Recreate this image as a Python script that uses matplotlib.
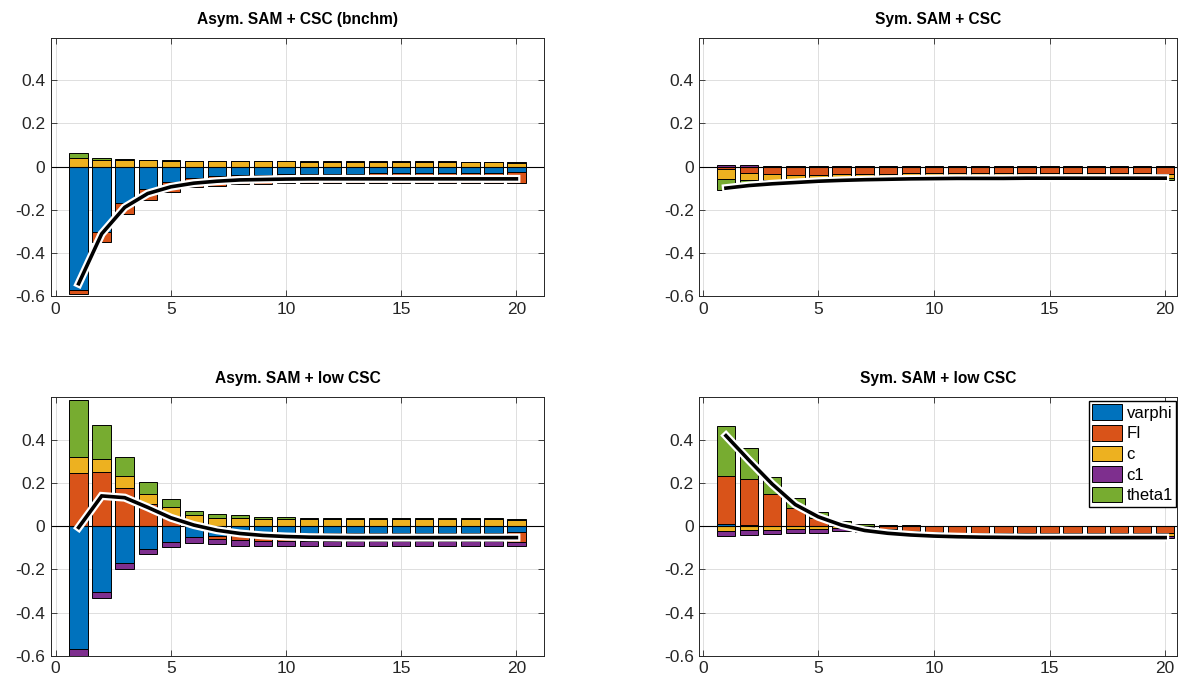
import numpy as np
import matplotlib
matplotlib.use("Agg")
import matplotlib.pyplot as plt
import matplotlib.patheffects as pe

plt.rcParams['font.family'] = ['Liberation Sans', 'DejaVu Sans']

periods = np.arange(1, 21)
series_names = ['varphi', 'FI', 'c', 'c1', 'theta1']
series_colors = ['#0072BD', '#D95319', '#EDB120', '#7E2F8E', '#77AC30']

# Asym. SAM + CSC (bnchm)
a_varphi = [-0.574, -0.305, -0.171, -0.102, -0.071, -0.054, -0.046, -0.040, -0.037, -0.035,
            -0.034, -0.033, -0.033, -0.032, -0.032, -0.032, -0.032, -0.031, -0.030, -0.025]
a_fi = [-0.018, -0.046, -0.051, -0.053, -0.046, -0.043, -0.043, -0.043, -0.043, -0.043,
        -0.044, -0.044, -0.044, -0.045, -0.045, -0.045, -0.045, -0.045, -0.046, -0.050]
a_c = [0.040, 0.031, 0.031, 0.029, 0.028, 0.027, 0.025, 0.025, 0.024, 0.024,
       0.023, 0.023, 0.023, 0.023, 0.023, 0.023, 0.023, 0.022, 0.022, 0.018]
a_c1 = [0.0] * 20
a_theta1 = [0.022, 0.008, 0.003, 0.002, 0.001, 0.001, 0.001, 0.001, 0.001, 0.001,
            0.001, 0.001, 0.001, 0.001, 0.001, 0.001, 0.001, 0.001, 0.001, 0.001]
a_total = [-0.543, -0.312, -0.189, -0.125, -0.094, -0.077, -0.068, -0.062, -0.060, -0.058,
           -0.057, -0.057, -0.057, -0.057, -0.057, -0.057, -0.057, -0.057, -0.057, -0.057]

# Sym. SAM + CSC
s_varphi = [-0.003, 0.0, 0.0, 0.0, 0.0, 0.0, 0.0, 0.0, 0.0, 0.0,
            0.0, 0.0, 0.0, 0.0, 0.0, 0.0, 0.0, 0.0, 0.0, 0.0]
s_fi = [-0.008, -0.028, -0.033, -0.037, -0.039, -0.035, -0.033, -0.033, -0.032, -0.032,
        -0.032, -0.032, -0.032, -0.032, -0.032, -0.032, -0.032, -0.032, -0.032, -0.034]
s_c = [-0.045, -0.033, -0.030, -0.027, -0.020, -0.012, -0.011, -0.011, -0.011, -0.011,
       -0.011, -0.011, -0.011, -0.011, -0.011, -0.011, -0.011, -0.011, -0.011, -0.020]
s_c1 = [0.009, 0.005, 0.004, 0.003, 0.003, 0.002, 0.002, 0.002, 0.002, 0.002,
        0.002, 0.002, 0.002, 0.002, 0.002, 0.002, 0.002, 0.002, 0.002, 0.002]
s_theta1 = [-0.055, -0.016, -0.010, -0.006, -0.004, -0.003, -0.002, -0.002, -0.002, -0.002,
            -0.002, -0.002, -0.002, -0.002, -0.002, -0.002, -0.002, -0.002, -0.002, -0.008]
s_total = [-0.100, -0.088, -0.080, -0.074, -0.068, -0.064, -0.061, -0.059, -0.057, -0.056,
           -0.055, -0.055, -0.055, -0.054, -0.054, -0.054, -0.054, -0.054, -0.054, -0.054]

# Asym. SAM + low CSC
al_varphi = [-0.569, -0.304, -0.171, -0.104, -0.073, -0.051, -0.046, -0.037, -0.036, -0.034,
             -0.032, -0.031, -0.031, -0.031, -0.031, -0.031, -0.031, -0.030, -0.030, -0.026]
al_fi = [0.246, 0.251, 0.178, 0.102, 0.043, 0.008, -0.014, -0.028, -0.034, -0.036,
         -0.037, -0.037, -0.037, -0.037, -0.037, -0.037, -0.037, -0.037, -0.037, -0.048]
al_c = [0.073, 0.061, 0.053, 0.048, 0.047, 0.042, 0.040, 0.037, 0.035, 0.033,
        0.032, 0.031, 0.031, 0.031, 0.031, 0.031, 0.031, 0.031, 0.031, 0.030]
al_c1 = [-0.034, -0.028, -0.026, -0.025, -0.022, -0.025, -0.022, -0.025, -0.022, -0.022,
         -0.023, -0.023, -0.023, -0.023, -0.023, -0.023, -0.023, -0.023, -0.023, -0.019]
al_theta1 = [0.267, 0.155, 0.090, 0.053, 0.034, 0.021, 0.016, 0.013, 0.009, 0.008,
             0.007, 0.007, 0.007, 0.007, 0.007, 0.007, 0.007, 0.007, 0.007, 0.004]
al_total = [-0.006, 0.140, 0.132, 0.087, 0.039, 0.005, -0.019, -0.034, -0.043, -0.048,
            -0.051, -0.052, -0.053, -0.053, -0.053, -0.053, -0.053, -0.053, -0.053, -0.053]

# Sym. SAM + low CSC
sl_varphi = [0.008, 0.004, 0.002, 0.001, 0.001, 0.0, 0.0, 0.0, 0.0, 0.0,
             0.0, 0.0, 0.0, 0.0, 0.0, 0.0, 0.0, 0.0, 0.0, 0.0]
sl_fi = [0.225, 0.215, 0.147, 0.081, 0.035, 0.012, -0.006, -0.014, -0.022, -0.028,
         -0.030, -0.031, -0.031, -0.031, -0.031, -0.031, -0.031, -0.031, -0.031, -0.034]
sl_c = [-0.022, -0.020, -0.016, -0.013, -0.011, -0.008, -0.010, -0.010, -0.012, -0.011,
        -0.011, -0.011, -0.011, -0.011, -0.011, -0.011, -0.011, -0.011, -0.011, -0.012]
sl_c1 = [-0.024, -0.021, -0.021, -0.021, -0.020, -0.016, -0.012, -0.008, -0.005, -0.003,
         -0.002, -0.002, -0.002, -0.002, -0.002, -0.002, -0.002, -0.002, -0.002, -0.010]
sl_theta1 = [0.232, 0.141, 0.080, 0.047, 0.028, 0.013, 0.009, 0.006, 0.003, 0.002,
             0.001, 0.001, 0.001, 0.001, 0.001, 0.001, 0.001, 0.001, 0.001, 0.001]
sl_total = [0.419, 0.305, 0.195, 0.100, 0.043, 0.005, -0.020, -0.033, -0.041, -0.046,
            -0.049, -0.051, -0.052, -0.053, -0.053, -0.053, -0.053, -0.053, -0.053, -0.053]

panels = [
    ('Asym. SAM + CSC (bnchm)', [a_varphi, a_fi, a_c, a_c1, a_theta1], a_total),
    ('Sym. SAM + CSC', [s_varphi, s_fi, s_c, s_c1, s_theta1], s_total),
    ('Asym. SAM + low CSC', [al_varphi, al_fi, al_c, al_c1, al_theta1], al_total),
    ('Sym. SAM + low CSC', [sl_varphi, sl_fi, sl_c, sl_c1, sl_theta1], sl_total),
]

# axes boxes in figure fractions (left, bottom, width, height)
boxes = [
    (0.0428, 0.5685, 0.4140, 0.3765),
    (0.5872, 0.5685, 0.4008, 0.3765),
    (0.0428, 0.0442, 0.4140, 0.3767),
    (0.5872, 0.0442, 0.4008, 0.3767),
]
xlims = [(-0.2, 21.2), (-0.15, 20.5), (-0.2, 21.2), (-0.15, 20.5)]

fig = plt.figure(figsize=(11.91, 6.86), dpi=100)

for k, (title, comps, total) in enumerate(panels):
    ax = fig.add_axes(boxes[k])
    ax.set_axisbelow(True)
    pos_base = np.zeros(len(periods))
    neg_base = np.zeros(len(periods))
    handles = []
    # positive parts stack upward, negative parts downward
    for vals, name, col in zip(comps, series_names, series_colors):
        v = np.array(vals)
        bottoms = np.where(v >= 0, pos_base, neg_base)
        b = ax.bar(periods, v, 0.8, bottom=bottoms, color=col,
                   edgecolor='black', linewidth=0.7, label=name, zorder=2)
        handles.append(b)
        pos_base = pos_base + np.where(v >= 0, v, 0)
        neg_base = neg_base + np.where(v < 0, v, 0)
    ax.axhline(0, color='black', linewidth=0.8, zorder=2.5)
    ax.plot(periods, total, color='black', linewidth=2.6, zorder=3,
            solid_joinstyle='miter',
            path_effects=[pe.Stroke(linewidth=5.8, foreground='white'), pe.Normal()])

    ax.set_xlim(*xlims[k])
    ax.set_ylim(-0.6, 0.597)
    ax.set_xticks([0, 5, 10, 15, 20])
    ax.set_yticks([-0.6, -0.4, -0.2, 0, 0.2, 0.4])
    ax.set_yticklabels(['-0.6', '-0.4', '-0.2', '0', '0.2', '0.4'])
    ax.grid(True, color='#dedede', linewidth=0.7)
    ax.tick_params(direction='in', length=4, width=0.6, labelsize=12.5,
                   colors='#262626', top=True, right=True, pad=4)
    for sp in ax.spines.values():
        sp.set_color('#262626')
        sp.set_linewidth(0.7)
    ax.set_title(title, fontsize=11.2, fontweight='bold', pad=10)

    if k == 3:
        ax.legend(handles=handles, loc='upper right', bbox_to_anchor=(0.999, 0.985),
                  fontsize=12, frameon=True, fancybox=False, edgecolor='black',
                  framealpha=1, handlelength=1.8, handleheight=1.05, labelspacing=0.25,
                  handletextpad=0.25, borderpad=0.2, borderaxespad=0.0)

fig.savefig('out.png', dpi=100)
